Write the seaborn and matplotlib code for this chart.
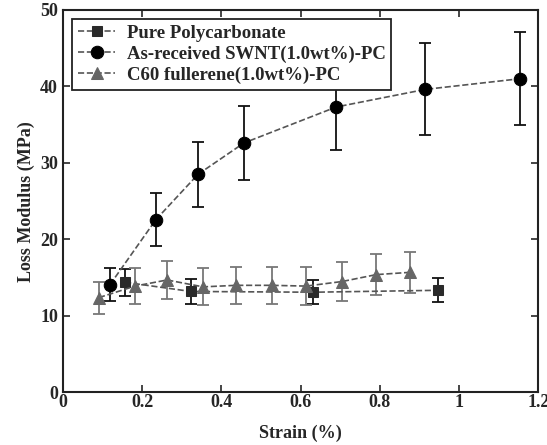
import seaborn as sns
import pandas as pd
import matplotlib.pyplot as plt

# Pure polycarbonate
pc_x = [0.157, 0.323, 0.632, 0.946]
pc_y = [14.4, 13.2, 13.1, 13.35]
pc_err = [1.75, 1.6, 1.55, 1.55]

# As-received SWNT (1.0 wt%) - PC
swnt_x = [0.119, 0.235, 0.341, 0.457, 0.690, 0.915, 1.155]
swnt_y = [14.1, 22.6, 28.5, 32.6, 37.3, 39.6, 41.0]
swnt_err = [2.1, 3.4, 4.25, 4.8, 5.6, 6.0, 6.1]

# C60 fullerene (1.0 wt%) - PC
c60_x = [0.091, 0.182, 0.263, 0.354, 0.437, 0.528, 0.614, 0.705, 0.791, 0.877]
c60_y = [12.4, 13.9, 14.7, 13.8, 14.0, 14.0, 13.9, 14.5, 15.4, 15.7]
c60_err = [2.1, 2.4, 2.45, 2.4, 2.45, 2.45, 2.45, 2.55, 2.65, 2.7]

labels = ['Pure Polycarbonate', 'As-received SWNT(1.0wt%)-PC', 'C60 fullerene(1.0wt%)-PC']

sns.set_style("ticks")
plt.rcParams['font.family'] = ['Liberation Serif', 'DejaVu Serif']
plt.rcParams['font.weight'] = 'bold'

fig = plt.figure(figsize=(5.47, 4.45), dpi=100)
ax = fig.add_axes([0.115, 0.118, 0.869, 0.86])

series = [
    (pc_x, pc_y, pc_err, 's', '#2a2a2a', '#111111', 7.5),
    (swnt_x, swnt_y, swnt_err, 'o', '#000000', '#111111', 9),
    (c60_x, c60_y, c60_err, '^', '#666666', '#777777', 9),
]

for (xs, ys, errs, mk, col, ecol, ms), lab in zip(series, labels):
    df = pd.DataFrame({'Strain': xs, 'Loss': ys})
    ax.errorbar(xs, ys, yerr=errs, fmt='none', ecolor=ecol, elinewidth=1.3,
                capsize=4, capthick=1.3, zorder=2)
    sns.lineplot(data=df, x='Strain', y='Loss', ax=ax, color='#555555',
                 linestyle='--', linewidth=1.2, marker=mk, markersize=ms,
                 markerfacecolor=col, markeredgecolor=col, label=lab,
                 sort=False, zorder=3)

ax.set_xlim(0, 1.2)
ax.set_ylim(0, 50)
ax.set_xticks([0, 0.2, 0.4, 0.6, 0.8, 1.0, 1.2])
ax.set_xticklabels(['0', '0.2', '0.4', '0.6', '0.8', '1', '1.2'])
ax.set_yticks([0, 10, 20, 30, 40, 50])
ax.tick_params(direction='in', top=True, right=True, length=5, width=1.2,
               labelsize=13)
ax.tick_params(axis='x', pad=1)
for s in ax.spines.values():
    s.set_linewidth(1.5)
    s.set_color('#222222')

ax.set_xlabel('Strain (%)', fontsize=13, fontweight='bold', labelpad=10)
ax.set_ylabel('Loss Modulus (MPa)', fontsize=13, fontweight='bold')

leg = ax.legend(loc='upper left', fontsize=13.5, frameon=True, fancybox=False,
                framealpha=1, edgecolor='#222222', handlelength=2.0,
                borderaxespad=0.5, labelspacing=0.2, borderpad=0.3,
                handletextpad=0.6)
leg.set_zorder(10)
leg.get_frame().set_linewidth(1.3)
for t in leg.get_texts():
    t.set_fontweight('bold')

fig.savefig('out.png', dpi=100)
